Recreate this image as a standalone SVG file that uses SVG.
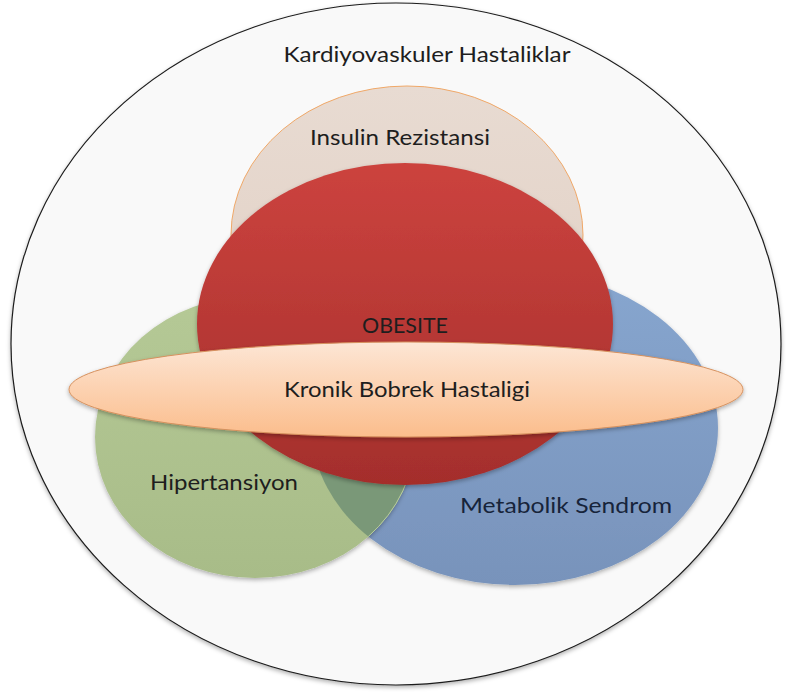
<svg xmlns="http://www.w3.org/2000/svg" width="786" height="693" viewBox="0 0 786 693">
  <style>
    .lbl { font-family: Lato, "Open Sans", "Liberation Sans", sans-serif; font-size: 22px; fill: #1e1e1e; text-anchor: middle; }
  </style>
  <defs>
    <linearGradient id="gRed" x1="0" y1="0" x2="0" y2="1">
      <stop offset="0" stop-color="#cc433e"/>
      <stop offset="1" stop-color="#a42e2c"/>
    </linearGradient>
    <linearGradient id="gGreen" x1="0" y1="0" x2="0" y2="1">
      <stop offset="0" stop-color="#b5c996"/>
      <stop offset="1" stop-color="#a8bc88"/>
    </linearGradient>
    <linearGradient id="gBlue" x1="0" y1="0" x2="0" y2="1">
      <stop offset="0" stop-color="#87a6cf"/>
      <stop offset="1" stop-color="#7893bb"/>
    </linearGradient>
    <linearGradient id="gOrange" x1="0" y1="0" x2="0" y2="1">
      <stop offset="0" stop-color="#fde6d5"/>
      <stop offset="1" stop-color="#fbbd8c"/>
    </linearGradient>
    <linearGradient id="gInsulin" x1="0" y1="0" x2="0" y2="1">
      <stop offset="0" stop-color="#e8dbd2"/>
      <stop offset="1" stop-color="#e1cfc3"/>
    </linearGradient>
    <filter id="shadow" x="-10%" y="-10%" width="120%" height="130%">
      <feDropShadow dx="0" dy="2" stdDeviation="2" flood-color="#000" flood-opacity="0.3"/>
    </filter>
    <clipPath id="blueClip">
      <ellipse cx="515" cy="428" rx="203" ry="157"/>
    </clipPath>
  </defs>

  <rect width="786" height="693" fill="#ffffff"/>

  <!-- outer set -->
  <g id="kardiyovaskuler">
    <ellipse cx="396" cy="344" rx="385" ry="341" fill="#f9f9f9" stroke="#1c1c1c" stroke-width="1.2" filter="url(#shadow)"/>
    <text class="lbl" x="427" y="62" textLength="287" lengthAdjust="spacingAndGlyphs">Kardiyovaskuler Hastaliklar</text>
  </g>

  <g id="insulin">
    <ellipse cx="407" cy="235" rx="176" ry="149" fill="url(#gInsulin)" stroke="#f0a868" stroke-width="1"/>
    <text class="lbl" x="400" y="145" textLength="180" lengthAdjust="spacingAndGlyphs">Insulin Rezistansi</text>
  </g>

  <g id="metabolik">
    <ellipse cx="515" cy="428" rx="203" ry="157" fill="url(#gBlue)" filter="url(#shadow)"/>
  </g>

  <g id="hipertansiyon">
    <ellipse cx="255" cy="437" rx="160" ry="141" fill="url(#gGreen)" filter="url(#shadow)"/>
    <!-- shared area of the two lower sets -->
    <ellipse cx="255" cy="437" rx="160" ry="141" fill="#7a9878" clip-path="url(#blueClip)"/>
    <ellipse cx="255" cy="437" rx="160" ry="141" fill="none" stroke="#b9cd9a" stroke-width="1" clip-path="url(#blueClip)"/>
  </g>

  <g id="obesite">
    <ellipse cx="405" cy="324" rx="208" ry="161" fill="url(#gRed)" filter="url(#shadow)"/>
    <text class="lbl" x="405" y="333" textLength="86" lengthAdjust="spacingAndGlyphs">OBESITE</text>
  </g>

  <g id="kronik">
    <ellipse cx="406" cy="389.5" rx="337" ry="47.5" fill="url(#gOrange)" stroke="#d6915e" stroke-width="1" filter="url(#shadow)"/>
    <text class="lbl" x="407" y="397" textLength="246" lengthAdjust="spacingAndGlyphs">Kronik Bobrek Hastaligi</text>
  </g>

  <g id="labels-lower">
    <text class="lbl" x="224" y="490" textLength="148" lengthAdjust="spacingAndGlyphs">Hipertansiyon</text>
    <text class="lbl" x="566" y="513" textLength="212" lengthAdjust="spacingAndGlyphs" style="fill:#17243a">Metabolik Sendrom</text>
  </g>
</svg>
